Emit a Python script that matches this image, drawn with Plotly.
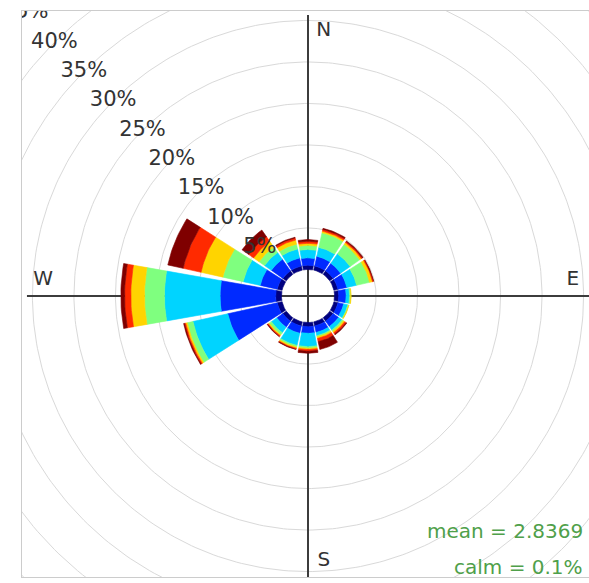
import numpy as np
import plotly.graph_objects as go

# ---------------- data ----------------
directions = ["N", "NNE", "NE", "ENE", "E", "ESE", "SE", "SSE",
              "S", "SSW", "SW", "WSW", "W", "WNW", "NW", "NNW"]
bearings = [0.0, 22.5, 45.0, 67.5, 90.0, 112.5, 135.0, 157.5,
            180.0, 202.5, 225.0, 247.5, 270.0, 292.5, 315.0, 337.5]

ws_bins = ["0 to 1", "1 to 2", "2 to 3", "3 to 4", "4 to 5", "5 to 6", "> 6"]
bin_colors = ["#00007F", "#002AFF", "#00D4FF", "#7FFF7F", "#FFD400", "#FF2A00", "#7F0000"]

# frequency (%) of each speed bin, per direction (N ... NNW)
freq_bin1 = [0.5, 0.5, 0.5, 0.5, 0.5, 0.5, 0.5, 0.5, 0.5, 0.5, 0.5, 0.6, 0.7, 0.6, 0.5, 0.5]
freq_bin2 = [0.9, 1.2, 1.1, 1.1, 0.9, 0.7, 0.8, 0.8, 0.8, 0.9, 0.9, 6.1, 6.7, 2.1, 1.7, 1.0]
freq_bin3 = [1.0, 1.1, 1.4, 1.2, 0.4, 0.5, 0.5, 0.4, 1.6, 1.5, 0.8, 4.3, 6.7, 2.1, 1.0, 1.1]
freq_bin4 = [0.5, 1.8, 1.4, 1.6, 0.15, 0.1, 0.2, 0.15, 0.2, 0.2, 0.3, 0.7, 2.4, 2.5, 0.8, 0.6]
freq_bin5 = [0.25, 0.2, 0.25, 0.35, 0.05, 0.05, 0.2, 0.2, 0.15, 0.15, 0.15, 0.2, 1.65, 2.7, 0.8, 0.5]
freq_bin6 = [0.25, 0.2, 0.15, 0.1, 0.0, 0.0, 0.2, 0.4, 0.2, 0.1, 0.1, 0.15, 0.75, 2.2, 0.7, 0.25]
freq_bin7 = [0.2, 0.15, 0.1, 0.05, 0.0, 0.0, 0.1, 0.95, 0.25, 0.05, 0.05, 0.1, 0.45, 1.9, 1.0, 0.1]
freqs = [freq_bin1, freq_bin2, freq_bin3, freq_bin4, freq_bin5, freq_bin6, freq_bin7]

ring_pct = [0, 5, 10, 15, 20, 25, 30, 35, 40, 45]
ring_labels = ["5%", "10%", "15%", "20%", "25%", "30%", "35%", "40%", "45%"]
compass = ["N", "E", "S", "W"]
compass_bearing = [0.0, 90.0, 180.0, 270.0]
mean_text = "mean = 2.8369"
calm_text = "calm = 0.1%"

# ---------------- layout constants ----------------
OFFSET = 3.2          # radius of the central hole (in % units)
HALF_W = 10.0         # half angular width of each wedge (deg)
LABEL_ANGLE = 315.0
AXIS_LEN = 33.86
COMPASS_R = 31.9
COMPASS_SHIFT = 1.9
FONT = "DejaVu Sans"

fig = go.Figure()

def polar_xy(r, bearing_deg):
    a = np.radians(bearing_deg)
    return r * np.sin(a), r * np.cos(a)

# rings
theta = np.linspace(0, 360, 361)
for p in ring_pct:
    x, y = polar_xy(OFFSET + p, theta)
    fig.add_trace(go.Scatter(x=x, y=y, mode="lines",
                             line=dict(color="#d9d9d9", width=1),
                             hoverinfo="skip", showlegend=False))

# N-S and E-W axis lines
fig.add_trace(go.Scatter(x=[-AXIS_LEN, AXIS_LEN, None, 0, 0],
                         y=[0, 0, None, -AXIS_LEN, AXIS_LEN],
                         mode="lines", line=dict(color="#3c3c3c", width=2),
                         hoverinfo="skip", showlegend=False))

# wedges
cum = np.zeros(len(directions))
for j, (name, col) in enumerate(zip(ws_bins, bin_colors)):
    f = np.array(freqs[j], dtype=float)
    xs, ys = [], []
    for i, b in enumerate(bearings):
        if f[i] <= 0:
            continue
        r0 = OFFSET + cum[i]
        r1 = OFFSET + cum[i] + f[i]
        a = np.linspace(b - HALF_W, b + HALF_W, 16)
        xo, yo = polar_xy(r1, a)
        xi, yi = polar_xy(r0, a[::-1])
        xs += list(xo) + list(xi) + [xo[0], None]
        ys += list(yo) + list(yi) + [yo[0], None]
    cum = cum + f
    fig.add_trace(go.Scatter(x=xs, y=ys, mode="lines", fill="toself",
                             fillcolor=col, line=dict(color=col, width=0.6),
                             name=name, hoverinfo="skip", showlegend=False))

# percentage labels
lr = [OFFSET + p for p in ring_pct[1:]]
lx, ly = polar_xy(np.array(lr), LABEL_ANGLE)
fig.add_trace(go.Scatter(x=lx, y=ly, mode="text", text=ring_labels,
                         textposition="middle center", cliponaxis=True,
                         textfont=dict(family=FONT, size=21, color="#333333"),
                         hoverinfo="skip", showlegend=False))

# compass labels (offset to the right of N/S axis, above the E/W axis)
cb = np.radians(compass_bearing)
cx, cy = polar_xy(COMPASS_R, np.array(compass_bearing))
px_ = cx + COMPASS_SHIFT * np.abs(np.cos(cb))
py_ = cy + COMPASS_SHIFT * np.abs(np.sin(cb))
fig.add_trace(go.Scatter(x=px_, y=py_, mode="text", text=compass,
                         textposition="middle center", cliponaxis=True,
                         textfont=dict(family=FONT, size=20, color="#333333"),
                         hoverinfo="skip", showlegend=False))

fig.add_annotation(x=0.993, y=0.0813, xref="paper", yref="paper", text=mean_text,
                   showarrow=False, xanchor="right", yanchor="middle",
                   font=dict(family=FONT, size=20, color="#4fa04a"))
fig.add_annotation(x=0.993, y=0.0177, xref="paper", yref="paper", text=calm_text,
                   showarrow=False, xanchor="right", yanchor="middle",
                   font=dict(family=FONT, size=20, color="#4fa04a"))

S = 8.3  # px per unit
cx0, cy0 = 308, 296
L, T, R, B = 22, 11, 589, 577
fig.update_xaxes(range=[(L - cx0) / S, (R - cx0) / S], showgrid=False, zeroline=False,
                 showticklabels=False, ticks="", showline=True, mirror=True,
                 linecolor="#cccccc", linewidth=1, fixedrange=True)
fig.update_yaxes(range=[(cy0 - B) / S, (cy0 - T) / S], showgrid=False, zeroline=False,
                 showticklabels=False, ticks="", showline=True, mirror=False,
                 linecolor="#cccccc", linewidth=1, fixedrange=True)
fig.update_layout(width=589, height=583,
                  margin=dict(l=L, r=589 - R, t=T, b=583 - B),
                  plot_bgcolor="white", paper_bgcolor="white",
                  showlegend=False)

fig.write_html("out.html", config={"displayModeBar": False},
               post_script="document.body.style.margin='0';document.body.style.overflow='hidden';")
